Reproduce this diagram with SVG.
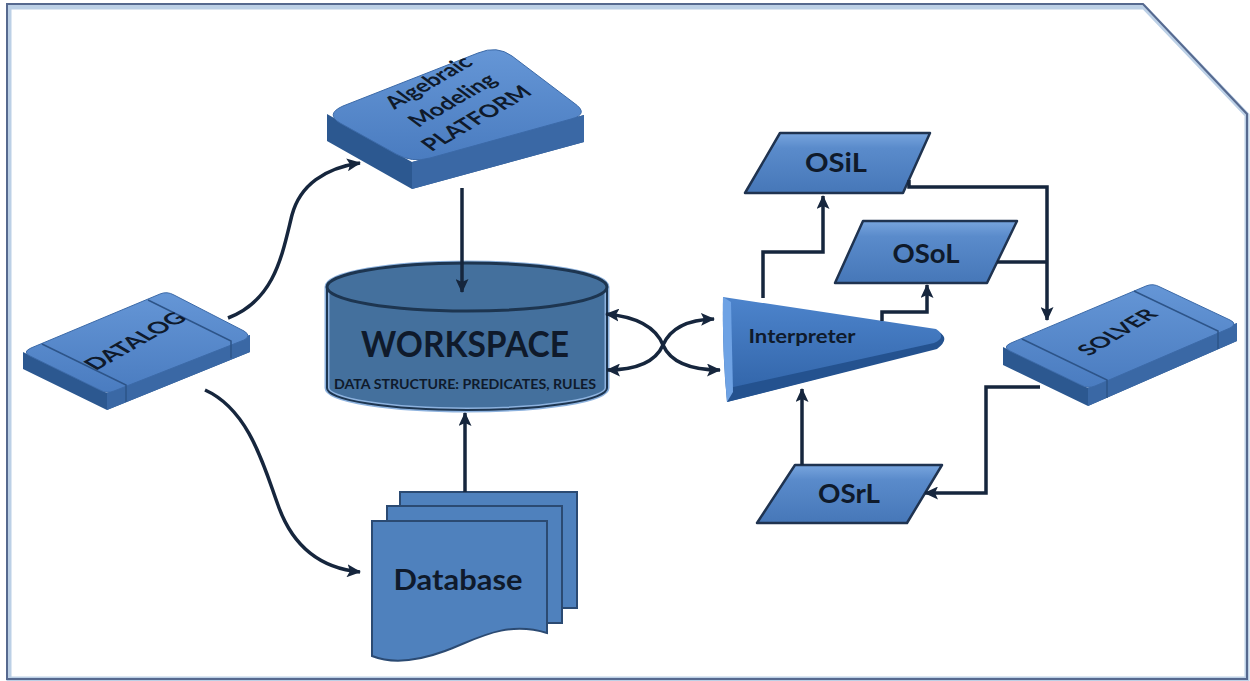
<svg xmlns="http://www.w3.org/2000/svg" width="1250" height="681" viewBox="0 0 1250 681">
  <defs>
    <style>
      .lbl { font-family: Lato, "Open Sans", "Liberation Sans", sans-serif; font-weight: bold; fill: #0f1a2b; text-anchor: middle; }
      .wire { fill: none; stroke: #16263d; stroke-width: 3.5; }
      .arrow { marker-end: url(#head); }
      .twoway { marker-start: url(#head); marker-end: url(#head); }
      .para { fill: url(#paraFill); stroke: #1f3350; stroke-width: 2.5; stroke-linejoin: round; }
      .sheet { fill: #4f81bd; stroke: #2b4a72; stroke-width: 2; }
      .band { stroke: #2d5488; stroke-width: 1.5; fill: none; }
    </style>
    <marker id="head" viewBox="0 0 14 13" refX="13" refY="6.5" markerWidth="14" markerHeight="13" markerUnits="userSpaceOnUse" orient="auto-start-reverse">
      <path d="M0,0 L14,6.5 L0,13 L3,6.5 z" fill="#16263d"/>
    </marker>
    <linearGradient id="paraFill" x1="0" y1="0" x2="0" y2="1">
      <stop offset="0" stop-color="#78a5de"/>
      <stop offset="0.25" stop-color="#5a8bcb"/>
      <stop offset="1" stop-color="#4677b8"/>
    </linearGradient>
    <linearGradient id="cardTop" x1="0" y1="0" x2="0" y2="1">
      <stop offset="0" stop-color="#6596d6"/>
      <stop offset="1" stop-color="#4a7cc0"/>
    </linearGradient>
    <linearGradient id="wedge" x1="0" y1="0" x2="0" y2="1">
      <stop offset="0" stop-color="#4d84cc"/>
      <stop offset="1" stop-color="#2f62a6"/>
    </linearGradient>
  </defs>

  <!-- page frame with clipped top-right corner -->
  <g id="frame">
    <polygon points="9,7 1144,7 1247,115 1247,679 9,679" fill="#ffffff" stroke="#bcd0e6" stroke-width="5"/>
    <polygon points="7,4 1143,4 1247,114 1247,679 7,679" fill="none" stroke="#56698f" stroke-width="2"/>
  </g>

  <!-- DATALOG card -->
  <g id="datalog">
    <path d="M23,352 L107,393 L250,335 L250,352 L107,410 L23,369 Z" fill="#2c5890"/>
    <path d="M107,393 L250,335 L250,352 L107,410 Z" fill="#3a68a5"/>
    <path d="M31,348 L160,294 Q167,291 174,295 L244,331 Q252,336 244,340 L114,391 Q107,394 100,390 L30,356 Q22,352 31,348 Z" fill="url(#cardTop)" stroke="#3c6aa8" stroke-width="1"/>
    <path class="band" d="M42,344 L126,385 L126,402"/>
    <path class="band" d="M148,300 L231,341 L231,358"/>
    <text class="lbl" font-size="23" transform="matrix(0.87,-0.49,0.85,0.5,135,341)" y="8">DATALOG</text>
  </g>

  <!-- Algebraic Modeling Platform -->
  <g id="platform">
    <path d="M327,114 L412,162 L584,115 L584,142 L412,189 L327,141 Z" fill="#2c5890"/>
    <path d="M412,162 L584,115 L584,142 L412,189 Z" fill="#3a68a5"/>
    <path d="M343,106 L478,53 Q497,45 512,56 L574,103 Q590,114 571,119 L430,158 Q412,163 396,154 L340,123 Q325,114 343,106 Z" fill="url(#cardTop)" stroke="#3c6aa8" stroke-width="1"/>
    <g transform="matrix(0.87,-0.5,0.8,0.6,452,100)">
      <text class="lbl" font-size="22" y="-22">Algebraic</text>
      <text class="lbl" font-size="22" y="8">Modeling</text>
      <text class="lbl" font-size="22" y="38">PLATFORM</text>
    </g>
  </g>

  <!-- WORKSPACE cylinder -->
  <g id="workspace">
    <path d="M327,287 L327,388 A140,22 0 0 0 607,388 L607,287 A140,24 0 0 0 327,287 Z" fill="#44709d" stroke="#8db2de" stroke-width="5"/>
    <path d="M327,287 L327,388 A140,22 0 0 0 607,388 L607,287" fill="none" stroke="#1d3550" stroke-width="2"/>
    <ellipse cx="467" cy="287" rx="140" ry="24" fill="#44709d" stroke="#1d3550" stroke-width="3"/>
    <text class="lbl" font-size="37" x="465" y="357" textLength="208" lengthAdjust="spacingAndGlyphs">WORKSPACE</text>
    <text class="lbl" font-size="14" x="465" y="389" textLength="262" lengthAdjust="spacingAndGlyphs">DATA STRUCTURE: PREDICATES, RULES</text>
  </g>

  <!-- Database document stack -->
  <g id="database">
    <path class="sheet" d="M400,492 H577 V608 H400 Z"/>
    <path class="sheet" d="M387,506 H562 V623 H387 Z"/>
    <path class="sheet" d="M372,521 H547 V633 C505,620 475,640 445,651 C415,662 392,664 372,656 Z"/>
    <text class="lbl" font-size="28" x="458" y="590" textLength="129" lengthAdjust="spacingAndGlyphs">Database</text>
  </g>

  <!-- Interpreter wedge -->
  <g id="interpreter">
    <path d="M723,297 L936,329 Q950,338 936,348 L727,402 Q722,350 723,297 Z" fill="url(#wedge)"/>
    <path d="M729,388 L934,343 Q944,339 940,333 Q950,339 937,349 L727,402 Z" fill="#24528f"/>
    <path d="M723,297 L731,302 L733,392 L727,402 Q722,350 723,297 Z" fill="#6ea2e4"/>
    <text class="lbl" font-size="18" x="802" y="343" textLength="107" lengthAdjust="spacingAndGlyphs">Interpreter</text>
  </g>

  <!-- OSiL -->
  <g id="osil">
    <polygon class="para" points="780,133 930,133 903,193 745,193"/>
    <text class="lbl" font-size="27" x="836" y="172" textLength="62" lengthAdjust="spacingAndGlyphs">OSiL</text>
  </g>

  <!-- OSoL -->
  <g id="osol">
    <polygon class="para" points="863,221 1017,221 987,283 835,283"/>
    <text class="lbl" font-size="27" x="926" y="263" textLength="67" lengthAdjust="spacingAndGlyphs">OSoL</text>
  </g>

  <!-- OSrL -->
  <g id="osrl">
    <polygon class="para" points="795,465 942,465 907,523 757,523"/>
    <text class="lbl" font-size="27" x="849" y="503" textLength="62" lengthAdjust="spacingAndGlyphs">OSrL</text>
  </g>

  <!-- SOLVER card -->
  <g id="solver">
    <path d="M1003,347 L1088,388 L1237,323 L1237,341 L1088,406 L1003,365 Z" fill="#2c5890"/>
    <path d="M1088,388 L1237,323 L1237,341 L1088,406 Z" fill="#3a68a5"/>
    <path d="M1011,343 L1146,286 Q1153,283 1160,287 L1230,320 Q1238,324 1230,328 L1095,386 Q1088,389 1081,385 L1010,351 Q1002,347 1011,343 Z" fill="url(#cardTop)" stroke="#3c6aa8" stroke-width="1"/>
    <path class="band" d="M1022,339 L1107,380 L1107,398"/>
    <path class="band" d="M1134,291 L1218,331 L1218,349"/>
    <text class="lbl" font-size="22" transform="matrix(0.86,-0.51,0.88,0.47,1117,332)" y="8">SOLVER</text>
  </g>

  <!-- connectors -->
  <g id="connectors">
    <path class="wire arrow" d="M228,318 C275,300 282,255 292,215 C300,185 325,168 360,163"/>
    <path class="wire arrow" d="M205,390 C250,410 265,470 278,505 C292,545 318,568 360,572"/>
    <path class="wire arrow" d="M462,188 V292"/>
    <path class="wire arrow" d="M465,492 V413"/>
    <path class="wire twoway" d="M606,314 Q652,318 663,345 Q674,370 720,370"/>
    <path class="wire twoway" d="M607,370 Q652,370 663,345 Q674,320 714,319"/>
    <path class="wire arrow" d="M763,298 V252 H823 V196"/>
    <path class="wire arrow" d="M882,321 V312 H927 V285"/>
    <path class="wire arrow" d="M909,180 V187 H1047 V320"/>
    <path class="wire" d="M997,262 H1047"/>
    <path class="wire arrow" d="M1040,387 H986 V493 H925"/>
    <path class="wire arrow" d="M802,465 V389"/>
  </g>
</svg>
